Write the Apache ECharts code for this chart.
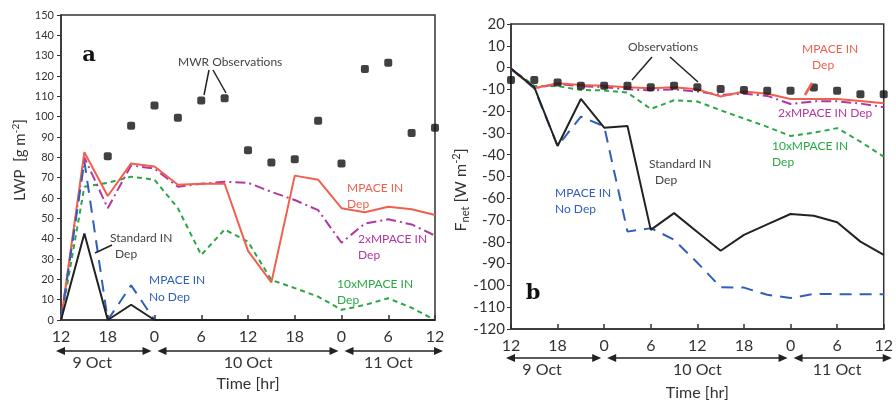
<!DOCTYPE html>
<html>
<head>
<meta charset="utf-8">
<script src="https://cdn.jsdelivr.net/npm/echarts@6/dist/echarts.min.js"></script>
<style>
html, body { margin: 0; padding: 0; background: #fff; }
#chart { width: 896px; height: 402px; }
</style>
</head>
<body>
<div id="chart"></div>
<script>
// hours since 9 Oct 12:00
const hours = [0, 3, 6, 9, 12, 15, 18, 21, 24, 27, 30, 33, 36, 39, 42, 45, 48];
const mwrHours = [6, 9, 12, 15, 18, 21, 24, 27, 30, 33, 36, 39, 42, 45, 48];

// panel a : LWP [g m-2]
const mwrObs     = [80.5, 95.5, 105.5, 99.5, 108, 109, 83.5, 77.5, 79, 98, 77, 123.5, 126.5, 92, 94.5];
const lwpMpace   = [0, 82.5, 61, 77, 75.5, 66.5, 67, 67, 34, 18.5, 71, 69, 55, 53, 55.7, 54.5, 51.6];
const lwp2x      = [0, 80, 55, 76, 74.5, 65.5, 67, 68, 67.5, 63, 59, 54, 38, 47.5, 49.5, 47, 41.5];
const lwp10x     = [0, 65.5, 67.5, 70.5, 69, 55, 32, 44.5, 38.5, 19.7, 15.7, 11.5, 5, 7.4, 10.7, 6, 0];
const lwpNoDep   = [0, 78, 0, 17, 0, 0, 0, 0, 0, 0, 0, 0, 0, 0, 0, 0, 0];
const lwpStd     = [0, 42.5, 0, 7.5, 0, 0, 0, 0, 0, 0, 0, 0, 0, 0, 0, 0, 0];

// panel b : Fnet [W m-2]
const fnetObs    = [-5.7, -5.7, -6.8, -8.4, -8.4, -8.4, -9, -8.4, -9, -9.8, -10.3, -10.6, -10.6, -9.2, -10.6, -12.2, -12.2];
const fnetMpace  = [-0.5, -9.5, -7.2, -8, -8.4, -9, -9.5, -9, -10, -13.3, -11, -12, -14.4, -14.4, -14.4, -15.3, -16.4];
const fnet2x     = [-0.5, -9.5, -7.5, -8.5, -9, -10, -10.5, -10, -11, -12.5, -12, -13, -16.7, -15.5, -15.5, -16.5, -18.2];
const fnet10x    = [-0.5, -8.4, -8.5, -10.3, -10.5, -11.5, -19, -15, -15.6, -19.6, -23.4, -27.2, -31.4, -29.9, -27.8, -34, -40.9];
const fnetStd    = [-0.5, -9, -36, -14.4, -27.6, -26.8, -74.5, -66.8, -75.5, -84.1, -76.8, -72, -67.2, -68, -71, -79.9, -86];
const fnetNoDep  = [-0.5, -9.5, -36, -22.5, -27, -75.3, -73.7, -79, -89.6, -100.8, -101, -104.3, -105.8, -103.9, -104, -104, -104];

const dateSpans  = [[0, 12], [12, 36], [36, 48]];
const dateLabels = ['9 Oct', '10 Oct', '11 Oct'];
const dateLabelHours = [4, 24, 42];

const RED = '#f0604f', PURPLE = '#b2379f', GREEN = '#2aa745', BLUE = '#2f5fb8', BLACK = '#222';
const FONT = 'Lato';

function pairs(xs, ys) {
  return xs.map((x, i) => [x, ys[i]]);
}

function line(name, idx, data, color, type, z) {
  return {
    name: name, type: 'line', xAxisIndex: idx, yAxisIndex: idx,
    data: data, symbol: 'none', z: z || 2,
    lineStyle: { color: color, width: 2, type: type || 'solid' }
  };
}

function xAxisCfg(idx) {
  return {
    type: 'value', gridIndex: idx, min: 0, max: 48, interval: 6,
    axisLine: { onZero: false, lineStyle: { color: '#333', width: 1.5 } },
    axisTick: { inside: true, length: 5, lineStyle: { color: '#333', width: 1.5 } },
    axisLabel: { color: '#333', fontSize: 16, fontFamily: FONT, margin: 9,
      formatter: v => String((v + 12) % 24) },
    splitLine: { show: false }
  };
}

const chart = echarts.init(document.getElementById('chart'));

const option = {
  animation: false,
  textStyle: { fontFamily: FONT },
  grid: [
    { left: 61, top: 15, right: 461, bottom: 82, show: true, borderColor: '#333', borderWidth: 1.5 },
    { left: 511, top: 24, right: 4, bottom: 73, show: true, borderColor: '#333', borderWidth: 1.5 }
  ],
  xAxis: [xAxisCfg(0), xAxisCfg(1)],
  yAxis: [
    {
      type: 'value', gridIndex: 0, min: 0, max: 150, interval: 10,
      axisLine: { show: true, onZero: false, lineStyle: { color: '#333', width: 1.5 } },
      axisTick: { length: 4, lineStyle: { color: '#333' } },
      axisLabel: { color: '#333', fontSize: 11, fontFamily: FONT, margin: 7 },
      splitLine: { show: false }
    },
    {
      type: 'value', gridIndex: 1, min: -120, max: 20, interval: 10,
      axisLine: { show: true, onZero: false, lineStyle: { color: '#333', width: 1.5 } },
      axisTick: { length: 4, lineStyle: { color: '#333' } },
      axisLabel: { color: '#333', fontSize: 15, fontFamily: FONT, margin: 6 },
      splitLine: { show: false }
    }
  ],
  series: [
    line('10xMPACE IN Dep', 0, pairs(hours, lwp10x), GREEN, [5, 4]),
    line('2xMPACE IN Dep', 0, pairs(hours, lwp2x), PURPLE, [10, 4, 2, 4]),
    line('MPACE IN Dep', 0, pairs(hours, lwpMpace), RED),
    line('MPACE IN No Dep', 0, pairs(hours, lwpNoDep), BLUE, [12, 8], 3),
    line('Standard IN Dep', 0, pairs(hours, lwpStd), BLACK, 'solid', 3),
    {
      name: 'MWR Observations', type: 'scatter', xAxisIndex: 0, yAxisIndex: 0,
      data: pairs(mwrHours, mwrObs), symbol: 'roundRect', symbolSize: 8,
      itemStyle: { color: '#111' }, z: 5
    },
    line('10xMPACE IN Dep', 1, pairs(hours, fnet10x), GREEN, [5, 4]),
    line('2xMPACE IN Dep', 1, pairs(hours, fnet2x), PURPLE, [10, 4, 2, 4]),
    line('MPACE IN Dep', 1, pairs(hours, fnetMpace), RED),
    line('MPACE IN No Dep', 1, pairs(hours, fnetNoDep), BLUE, [12, 8], 3),
    line('Standard IN Dep', 1, pairs(hours, fnetStd), BLACK, 'solid', 3),
    {
      name: 'Observations', type: 'scatter', xAxisIndex: 1, yAxisIndex: 1,
      data: pairs(hours, fnetObs), symbol: 'roundRect', symbolSize: 8,
      itemStyle: { color: '#111' }, z: 5
    }
  ]
};
chart.setOption(option);

// annotations
function txt(x, y, s, color, extra) {
  return Object.assign({
    type: 'text', x: x, y: y, z: 20,
    style: { text: s, fill: color, font: '12px ' + FONT, verticalAlign: 'middle' }
  }, extra || {});
}
function seg(x1, y1, x2, y2, color, w) {
  return { type: 'line', z: 20, shape: { x1: x1, y1: y1, x2: x2, y2: y2 },
    style: { stroke: color, lineWidth: w || 1.5 } };
}

const TXT = '#444';
const graphics = [
  // panel a
  txt(89, 56, 'a', '#111', { style: { text: 'a', fill: '#111', font: 'bold 21px "DejaVu Serif"', align: 'center', verticalAlign: 'middle' } }),
  txt(178, 62, 'MWR Observations', TXT),
  seg(209, 70, 204, 95, BLACK), seg(213, 70, 226, 93, BLACK),
  txt(347, 188, 'MPACE IN', RED), txt(347, 204, 'Dep', RED),
  txt(358, 239, '2xMPACE IN', PURPLE), txt(358, 255, 'Dep', PURPLE),
  txt(337, 284, '10xMPACE IN', GREEN), txt(337, 300, 'Dep', GREEN),
  txt(110, 238, 'Standard IN', TXT), txt(115, 254, 'Dep', TXT),
  seg(95, 253, 112, 245, BLACK),
  txt(149, 280, 'MPACE IN', BLUE), txt(149, 297, 'No Dep', BLUE),
  {
    type: 'text', x: 20, y: 160, rotation: Math.PI / 2, z: 20,
    style: {
      text: '{m|LWP  [g m}{s|-2}{m|]}', align: 'center', verticalAlign: 'middle',
      rich: { m: { fontSize: 15, fontFamily: FONT, fill: '#333', lineHeight: 18 },
              s: { fontSize: 10, fontFamily: FONT, fill: '#333', verticalAlign: 'top', lineHeight: 18 } }
    }
  },
  // panel b
  txt(628, 47, 'Observations', TXT),
  seg(652, 57, 632, 80, BLACK), seg(670, 57, 698, 82, BLACK),
  txt(802, 49, 'MPACE IN', RED), txt(812, 65, 'Dep', RED),
  seg(812, 83, 805, 95, RED, 2.5),
  txt(778, 113, '2xMPACE IN Dep', PURPLE),
  txt(772, 146, '10xMPACE IN', GREEN), txt(772, 162, 'Dep', GREEN),
  txt(649, 164, 'Standard IN', TXT), txt(655, 180, 'Dep', TXT),
  txt(555, 193, 'MPACE IN', BLUE), txt(555, 209, 'No Dep', BLUE),
  txt(533, 294, 'b', '#111', { style: { text: 'b', fill: '#111', font: 'bold 21px "DejaVu Serif"', align: 'center', verticalAlign: 'middle' } }),
  {
    type: 'text', x: 461, y: 190, rotation: Math.PI / 2, z: 20,
    style: {
      text: '{m|F}{b|net}{m| [W m}{s|-2}{m|]}', align: 'center', verticalAlign: 'middle',
      rich: { m: { fontSize: 16, fontFamily: FONT, fill: '#333', lineHeight: 20 },
              b: { fontSize: 11, fontFamily: FONT, fill: '#333', verticalAlign: 'bottom', lineHeight: 20 },
              s: { fontSize: 11, fontFamily: FONT, fill: '#333', verticalAlign: 'top', lineHeight: 20 } }
    }
  }
];

// date arrows and axis titles below each panel
function dateRow(idx, arrowY, labelY, titleY) {
  dateSpans.forEach((sp, i) => {
    let x1 = chart.convertToPixel({ xAxisIndex: idx }, sp[0]);
    let x2 = chart.convertToPixel({ xAxisIndex: idx }, sp[1]);
    x1 += (i === 0) ? -5 : 3;
    x2 += (i === dateSpans.length - 1) ? 8 : -3;
    graphics.push(seg(x1 + 5, arrowY, x2 - 5, arrowY, BLACK, 1.5));
    graphics.push({ type: 'polygon', z: 20, shape: { points: [[x1, arrowY], [x1 + 9, arrowY - 4], [x1 + 9, arrowY + 4]] }, style: { fill: BLACK } });
    graphics.push({ type: 'polygon', z: 20, shape: { points: [[x2, arrowY], [x2 - 9, arrowY - 4], [x2 - 9, arrowY + 4]] }, style: { fill: BLACK } });
    const lx = chart.convertToPixel({ xAxisIndex: idx }, dateLabelHours[i]);
    graphics.push({ type: 'text', x: lx, y: labelY, z: 20,
      style: { text: dateLabels[i], fill: '#333', font: '16px ' + FONT, align: 'center', verticalAlign: 'middle' } });
  });
  const mid = (chart.convertToPixel({ xAxisIndex: idx }, 0) + chart.convertToPixel({ xAxisIndex: idx }, 48)) / 2;
  graphics.push({ type: 'text', x: mid, y: titleY, z: 20,
    style: { text: 'Time [hr]', fill: '#333', font: '16px ' + FONT, align: 'center', verticalAlign: 'middle' } });
}
dateRow(0, 351, 363, 384);
dateRow(1, 358, 370, 393);

chart.setOption({ graphic: graphics });
</script>
</body>
</html>
